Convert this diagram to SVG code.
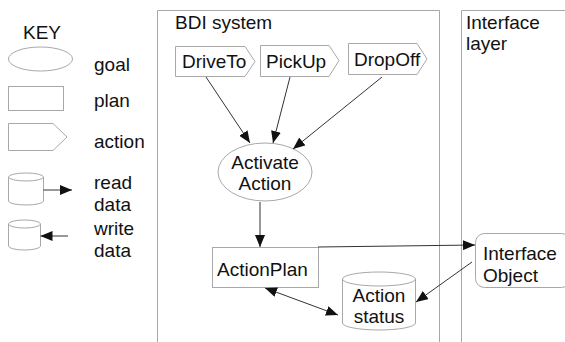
<svg xmlns="http://www.w3.org/2000/svg" width="565" height="342" viewBox="0 0 565 342">
<style>
.s{fill:#fff;stroke:#a8a8a8;stroke-width:1}
.t{font-family:"Liberation Sans",Arial,sans-serif;font-size:19px;fill:#111}
.c{stroke:#333;stroke-width:1;fill:none}
</style>
<defs>
<marker id="ah" viewBox="0 0 12 10" refX="12" refY="5" markerWidth="12" markerHeight="10" markerUnits="userSpaceOnUse" orient="auto-start-reverse">
<path d="M0,0 L12,5 L0,10 z" fill="#111"/>
</marker>
</defs>
<rect width="565" height="342" fill="#fff"/>
<g id="key">
<text class="t" x="42" y="39" text-anchor="middle">KEY</text>
<ellipse class="s" cx="40.5" cy="59" rx="32" ry="12"/>
<text class="t" x="94" y="71">goal</text>
<rect class="s" x="8.5" y="86.5" width="55" height="24"/>
<text class="t" x="94" y="107">plan</text>
<path class="s" d="M8.5,123.5 H53 L67,137 L53,150.5 H8.5 Z"/>
<text class="t" x="94" y="148">action</text>
<path class="s" d="M8.5,177 V201 A17.5,4 0 0 0 43.5,201 V177 A17.5,4 0 0 0 8.5,177 Z M8.5,177 A17.5,4 0 0 0 43.5,177"/>
<path class="c" d="M43.5,190 H72" marker-end="url(#ah)"/>
<text class="t" x="94" y="189">read</text>
<text class="t" x="94" y="211">data</text>
<path class="s" d="M8.5,224 V246 A16,4 0 0 0 40.5,246 V224 A16,4 0 0 0 8.5,224 Z M8.5,224 A16,4 0 0 0 40.5,224"/>
<path class="c" d="M68,236 H40.5" marker-end="url(#ah)"/>
<text class="t" x="94" y="235">write</text>
<text class="t" x="94" y="257">data</text>
</g>
<g id="bdi">
<path class="s" d="M157.5,346 V10.5 H439.5 V346"/>
<text class="t" x="175" y="29">BDI system</text>
</g>
<g id="iface-layer">
<path class="s" d="M461.5,346 V10.5 H570"/>
<text class="t" x="466" y="29">Interface</text>
<text class="t" x="466" y="50">layer</text>
</g>
<g id="driveto">
<path class="s" d="M175.5,46.5 H245 L255,61.5 L245,76.5 H175.5 Z"/>
<text class="t" x="182" y="68">DriveTo</text>
</g>
<g id="pickup">
<path class="s" d="M260.5,45.5 H329 L339,60.5 L329,76.5 H260.5 Z"/>
<text class="t" x="266" y="68">PickUp</text>
</g>
<g id="dropoff">
<path class="s" d="M348.5,43.5 H417 L427,59 L417,74.5 H348.5 Z"/>
<text class="t" x="354" y="66">DropOff</text>
</g>
<g id="activate">
<ellipse class="s" cx="265" cy="172" rx="47" ry="29"/>
<text class="t" x="265" y="169" text-anchor="middle">Activate</text>
<text class="t" x="265" y="190" text-anchor="middle">Action</text>
</g>
<g id="actionplan">
<rect class="s" x="212.5" y="247.5" width="106" height="40"/>
<text class="t" x="217" y="276">ActionPlan</text>
</g>
<g id="actionstatus">
<path class="s" d="M342.5,279 V323 A36.5,7 0 0 0 415.5,323 V279 A36.5,7 0 0 0 342.5,279 Z M342.5,279 A36.5,7 0 0 0 415.5,279"/>
<text class="t" x="379" y="302" text-anchor="middle">Action</text>
<text class="t" x="379" y="323" text-anchor="middle">status</text>
</g>
<g id="ifaceobject">
<rect class="s" x="475.5" y="233.5" width="95" height="54" rx="9"/>
<text class="t" x="483" y="260">Interface</text>
<text class="t" x="483" y="282">Object</text>
</g>
<g id="connectors">
<path class="c" d="M206,77 L250,143" marker-end="url(#ah)"/>
<path class="c" d="M290,77 L273,143" marker-end="url(#ah)"/>
<path class="c" d="M382,77 L293,149" marker-end="url(#ah)"/>
<path class="c" d="M260,202 V247" marker-end="url(#ah)"/>
<path class="c" d="M318,247 L475,245" marker-end="url(#ah)"/>
<path class="c" d="M472,262 L416,302" marker-end="url(#ah)"/>
<path class="c" d="M265,288 L338,315" marker-start="url(#ah)" marker-end="url(#ah)"/>
</g>
</svg>
